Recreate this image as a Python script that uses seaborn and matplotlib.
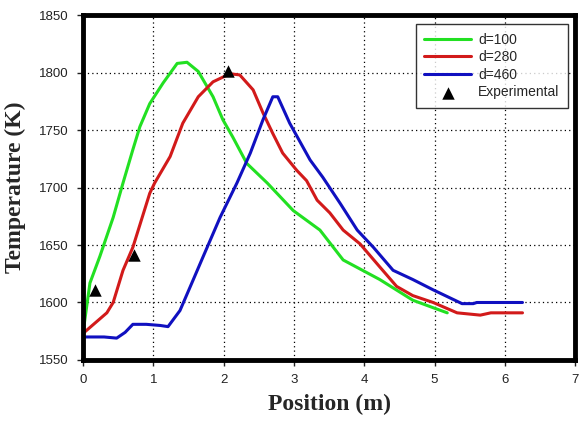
import matplotlib
matplotlib.use("Agg")
import matplotlib.pyplot as plt
import pandas as pd
import seaborn as sns

x_d100 = [0.0, 0.1, 0.24, 0.43, 0.57, 0.71, 0.81, 0.95, 1.14, 1.34, 1.48, 1.64, 1.85, 1.99, 2.13, 2.33, 2.62, 2.99, 3.37, 3.7, 4.22, 4.69, 5.0, 5.18]
t_d100 = [1573, 1617, 1640, 1674, 1704, 1733, 1753, 1773, 1791, 1808, 1809, 1801, 1779, 1759, 1744, 1721, 1704, 1680, 1663, 1637, 1620, 1602, 1595, 1591]

x_d280 = [0.0, 0.34, 0.43, 0.57, 0.71, 0.95, 1.02, 1.24, 1.42, 1.64, 1.85, 2.09, 2.23, 2.42, 2.56, 2.7, 2.84, 3.04, 3.18, 3.33, 3.51, 3.7, 3.94, 4.22, 4.46, 4.69, 4.98, 5.32, 5.65, 5.8, 6.25]
t_d280 = [1573, 1591, 1600, 1628, 1648, 1695, 1704, 1727, 1756, 1779, 1792, 1799, 1798, 1785, 1765, 1747, 1730, 1715, 1706, 1689, 1678, 1663, 1651, 1631, 1614, 1606, 1600, 1591, 1589, 1591, 1591]

x_d460 = [0.0, 0.3, 0.48, 0.6, 0.71, 0.9, 1.1, 1.21, 1.38, 1.57, 1.71, 1.95, 2.19, 2.38, 2.56, 2.7, 2.77, 2.94, 3.23, 3.41, 3.66, 3.9, 4.13, 4.41, 4.69, 4.98, 5.39, 5.55, 5.6, 6.25]
t_d460 = [1570, 1570, 1569, 1574, 1581, 1581, 1580, 1579, 1593, 1620, 1640, 1674, 1704, 1730, 1759, 1779, 1779, 1756, 1724, 1709, 1686, 1663, 1648, 1628, 1620, 1611, 1599, 1599, 1600, 1600]

x_exp = [0.17, 0.73, 2.06]
t_exp = [1611, 1641, 1801]

labels = ["d=100", "d=280", "d=460"]
colors = ["#22e022", "#d21a1a", "#1010c0"]

frames = []
for lab, xs, ts in zip(labels, [x_d100, x_d280, x_d460], [t_d100, t_d280, t_d460]):
    frames.append(pd.DataFrame({"pos": xs, "temp": ts, "case": lab}))
df = pd.concat(frames, ignore_index=True)
exp = pd.DataFrame({"pos": x_exp, "temp": t_exp})

sns.set_style("ticks")
plt.rcParams["font.family"] = ["Liberation Sans", "DejaVu Sans"]

fig = plt.figure(figsize=(5.84, 4.21), dpi=100)
ax = fig.add_axes([0.142, 0.145, 0.843, 0.819])

sns.lineplot(data=df, x="pos", y="temp", hue="case", palette=dict(zip(labels, colors)),
             linewidth=2.2, sort=False, estimator=None, ax=ax)
sns.scatterplot(data=exp, x="pos", y="temp", marker="^", color="black", s=80,
                edgecolor="black", linewidth=0, label="Experimental", ax=ax, zorder=5)

ax.set_xlim(0, 7)
ax.set_ylim(1550, 1850)
ax.set_xticks(range(0, 8))
ax.set_yticks(range(1550, 1851, 50))
ax.grid(True, color="black", linestyle=(0, (1, 2.5)), linewidth=0.9)
for s in ax.spines.values():
    s.set_linewidth(3.5)
    s.set_color("black")
ax.tick_params(axis="both", labelsize=9.5, length=4, width=1, pad=6, colors="#222222")

ax.set_xlabel("Position (m)", family="Liberation Serif", fontweight="bold", fontsize=17, labelpad=6)
ax.set_ylabel("Temperature (K)", family="Liberation Serif", fontweight="bold", fontsize=17, labelpad=10)

leg = ax.legend(loc="upper right", bbox_to_anchor=(0.985, 0.973), frameon=True, fancybox=False,
                fontsize=10, handlelength=3.4, borderpad=0.6, labelspacing=0.25, handletextpad=0.5,
                borderaxespad=0)
leg.get_frame().set_edgecolor("black")
leg.get_frame().set_linewidth(1.0)

fig.savefig("out.png", dpi=100)
